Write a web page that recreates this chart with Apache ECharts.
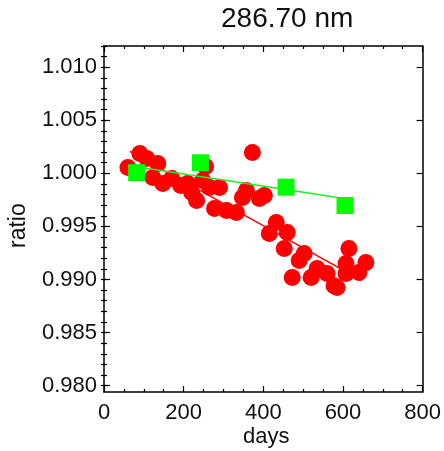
<!DOCTYPE html>
<html>
<head>
<meta charset="utf-8">
<script src="https://cdn.jsdelivr.net/npm/echarts@6/dist/echarts.min.js"></script>
<style>html,body{margin:0;padding:0;background:#fff}#c{width:444px;height:451px}</style>
</head>
<body>
<div id="c"></div>
<script>
// ---- data ----
const redDays = [60, 90, 107.5, 135, 122.5, 147.5, 170, 192.5, 210, 220, 232.5, 255, 247.5, 265, 290, 277.5, 307.5, 332.5, 347.5, 357.5, 372.5, 390, 402.5, 432.5, 415, 460, 452.5, 472.5, 502.5, 490, 520, 535, 560, 577.5, 585, 607.5, 615, 607.5, 640, 657.5];
const redRatio = [1.00056, 1.00188, 1.00141, 1.00093, 0.99961, 0.99905, 0.99952, 0.99886, 0.99905, 0.99820, 0.99744, 1.00065, 0.99933, 0.99867, 0.99867, 0.99669, 0.99650, 0.99631, 0.99773, 0.99839, 1.00197, 0.99763, 0.99792, 0.99537, 0.99433, 0.99442, 0.99292, 0.99018, 0.99244, 0.99178, 0.99018, 0.99103, 0.99056, 0.98942, 0.98924, 0.99150, 0.99292, 0.99056, 0.99065, 0.99159];
const greenDays = [82, 242, 457, 605];
const greenRatio = [1.00006, 1.00100, 0.99870, 0.99697];
const redLineDays = [65, 647.5];
const redLineRatio = [1.00207, 0.98990];
const greenLineDays = [60, 620];
const greenLineRatio = [1.00075, 0.99754];
const yMajor = [0.980, 0.985, 0.990, 0.995, 1.000, 1.005, 1.010];
const yMinor = [];
for (let i = 980; i <= 1012; i++) yMinor.push(i / 1000);
const title = '286.70 nm';
const xName = 'days';
const yName = 'ratio';

const zip = (a, b) => a.map((v, i) => [v, b[i]]);
const FONT = 'Liberation Sans, Arial, sans-serif';
const TXT = '#111';
const yMin = 0.9794, yMax = 1.012;

const chart = echarts.init(document.getElementById('c'));
const baseX = {
  type: 'value', min: 0, max: 800, interval: 200,
  axisLine: {show: true, onZero: false, lineStyle: {color: '#000', width: 1.5}},
  axisTick: {show: true, inside: true, length: 6, lineStyle: {color: '#000', width: 1.2}},
  minorTick: {show: true, splitNumber: 4, length: 3, lineStyle: {color: '#000', width: 1.2}},
  splitLine: {show: false}, minorSplitLine: {show: false}
};
const baseY = {
  type: 'value', min: yMin, max: yMax,
  axisLine: {show: true, onZero: false, lineStyle: {color: '#000', width: 1.5}},
  splitLine: {show: false}
};
chart.setOption({
  animation: false,
  grid: {left: 104, top: 46, right: 20, bottom: 59, containLabel: false},
  title: {text: title, left: 221, top: 5, padding: 0, textStyle: {fontFamily: FONT, fontSize: 28, fontWeight: 'normal', color: TXT}},
  xAxis: [
    Object.assign({}, baseX, {position: 'bottom',
      axisLabel: {show: true, margin: 10, fontFamily: FONT, fontSize: 22, color: TXT}}),
    Object.assign({}, baseX, {position: 'top', axisLabel: {show: false}})
  ],
  yAxis: [
    Object.assign({}, baseY, {position: 'left',
      axisTick: {show: true, inside: true, length: 6, customValues: yMajor, lineStyle: {color: '#000', width: 1.2}},
      axisLabel: {show: true, margin: 7, customValues: yMajor, fontFamily: FONT, fontSize: 22, color: TXT,
        formatter: v => v.toFixed(3)}}),
    Object.assign({}, baseY, {position: 'right',
      axisTick: {show: true, inside: true, length: 6, customValues: yMajor, lineStyle: {color: '#000', width: 1.2}},
      axisLabel: {show: false}}),
    Object.assign({}, baseY, {position: 'left', axisLine: {show: false},
      axisTick: {show: true, inside: true, length: 3, customValues: yMinor, lineStyle: {color: '#000', width: 1.2}},
      axisLabel: {show: false}}),
    Object.assign({}, baseY, {position: 'right', axisLine: {show: false},
      axisTick: {show: true, inside: true, length: 3, customValues: yMinor, lineStyle: {color: '#000', width: 1.2}},
      axisLabel: {show: false}})
  ],
  graphic: [
    {type: 'text', left: 265 - 22, top: 426, style: {text: xName, fontFamily: FONT, fontSize: 22, fill: TXT}},
    {type: 'text', x: 7, y: 248, rotation: Math.PI / 2, style: {text: yName, fontFamily: FONT, fontSize: 23, fill: TXT}}
  ],
  series: [
    {type: 'scatter', data: zip(redDays, redRatio), symbol: 'circle', symbolSize: 17,
      itemStyle: {color: '#ff0000', opacity: 1}, z: 2},
    {type: 'line', data: zip(redLineDays, redLineRatio), symbol: 'none',
      lineStyle: {color: '#ff0000', width: 1.5}, z: 3},
    {type: 'line', data: zip(greenLineDays, greenLineRatio), symbol: 'none',
      lineStyle: {color: '#22ee22', width: 1.5}, z: 4},
    {type: 'scatter', data: zip(greenDays, greenRatio), symbol: 'rect', symbolSize: 17,
      itemStyle: {color: '#00ff00', opacity: 1}, z: 5}
  ]
});
</script>
</body>
</html>
